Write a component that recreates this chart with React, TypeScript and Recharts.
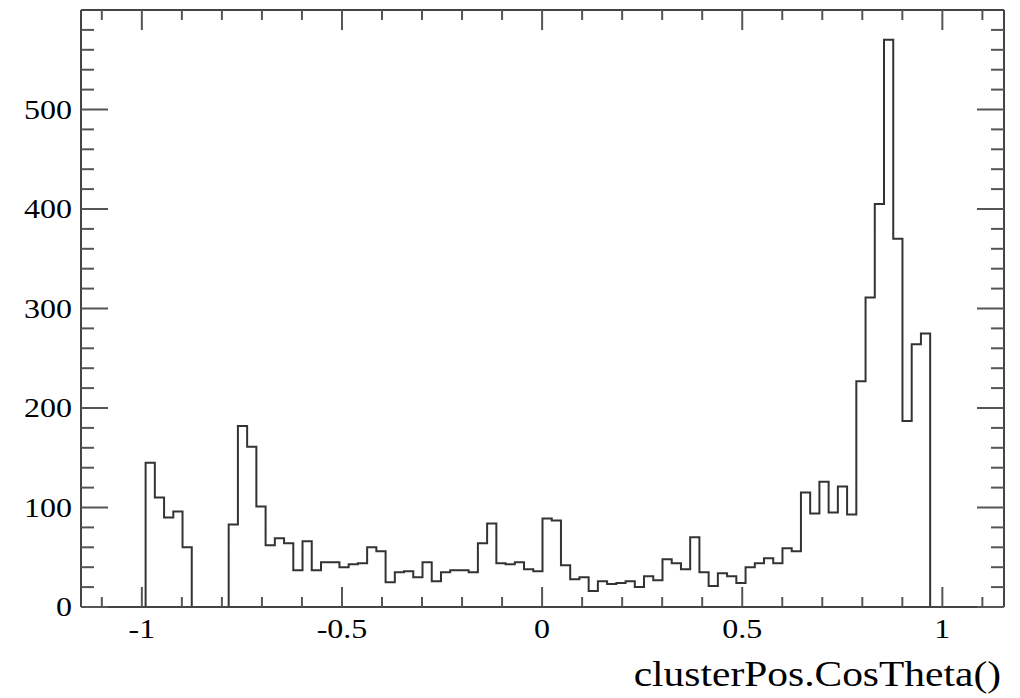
import { LineChart, Line, XAxis, YAxis } from 'recharts';

const X_MIN = -1.152;
const X_MAX = 1.154;

// entries per bin, 100 equal-width bins from X_MIN to X_MAX
const counts = [
  0, 0, 0, 0, 0, 0, 0, 145, 110, 90,
  96, 60, 0, 0, 0, 0, 83, 182, 161, 101,
  62, 69, 64, 37, 66, 37, 45, 45, 40, 43,
  44, 60, 56, 25, 35, 36, 30, 45, 26, 35,
  37, 37, 35, 64, 84, 44, 43, 45, 38, 36,
  89, 87, 42, 28, 30, 16, 26, 23, 24, 26,
  20, 31, 27, 48, 44, 38, 70, 35, 21, 34,
  31, 24, 40, 44, 49, 44, 59, 56, 115, 94,
  126, 95, 121, 93, 227, 311, 405, 570, 370, 187,
  264, 275, 0, 0, 0, 0, 0, 0, 0, 0,
];

const xTicks = [
  -1.1, -1, -0.9, -0.8, -0.7, -0.6, -0.5, -0.4, -0.3, -0.2, -0.1, 0,
  0.1, 0.2, 0.3, 0.4, 0.5, 0.6, 0.7, 0.8, 0.9, 1, 1.1,
];
const xLabeled = [-1, -0.5, 0, 0.5, 1];

const yTicks = [
  0, 20, 40, 60, 80, 100, 120, 140, 160, 180, 200, 220, 240, 260, 280,
  300, 320, 340, 360, 380, 400, 420, 440, 460, 480, 500, 520, 540, 560, 580,
];
const yLabeled = [0, 100, 200, 300, 400, 500];

const xTitle = 'clusterPos.CosTheta()';

const binWidth = (X_MAX - X_MIN) / counts.length;
const histData = counts.map((n, i) => ({ x: X_MIN + i * binWidth, n }));
histData.push({ x: X_MAX, n: 0 });

const FONT = "'Liberation Serif', 'Times New Roman', serif";
const STRETCH = 'scale(1.185 1)';
const TICK_COLOR = '#555';

function BottomTick(props: any) {
  const { x, y, payload } = props;
  const major = xLabeled.includes(payload.value);
  return (
    <g>
      <line x1={x} x2={x} y1={y} y2={y - (major ? 20 : 10)} stroke={TICK_COLOR} strokeWidth={2} />
      {major && (
        <text
          transform={`translate(${x} ${y + 31}) ${STRETCH}`}
          textAnchor="middle"
          fontFamily={FONT}
          fontSize={27}
          fill="#000"
        >
          {String(payload.value)}
        </text>
      )}
    </g>
  );
}

function TopTick(props: any) {
  const { x, y, payload } = props;
  const major = xLabeled.includes(payload.value);
  return <line x1={x} x2={x} y1={y} y2={y + (major ? 20 : 10)} stroke={TICK_COLOR} strokeWidth={2} />;
}

function LeftTick(props: any) {
  const { x, y, payload } = props;
  const major = yLabeled.includes(payload.value);
  return (
    <g>
      <line x1={x} x2={x + (major ? 27 : 13)} y1={y} y2={y} stroke={TICK_COLOR} strokeWidth={2} />
      {major && (
        <text
          transform={`translate(${x - 9} ${y + 9}) ${STRETCH}`}
          textAnchor="end"
          fontFamily={FONT}
          fontSize={27}
          fill="#000"
        >
          {String(payload.value)}
        </text>
      )}
    </g>
  );
}

function RightTick(props: any) {
  const { x, y, payload } = props;
  const major = yLabeled.includes(payload.value);
  return <line x1={x} x2={x - (major ? 27 : 13)} y1={y} y2={y} stroke={TICK_COLOR} strokeWidth={2} />;
}

export default function App() {
  const frame = { stroke: '#444', strokeWidth: 2 };
  return (
    <div style={{ background: '#fff', width: 1012, height: 690 }}>
      <LineChart
        width={1012}
        height={690}
        data={histData}
        margin={{ top: 1, right: 15, bottom: 90, left: 72 }}
      >
        <XAxis
          xAxisId="bottom"
          dataKey="x"
          type="number"
          domain={[X_MIN, X_MAX]}
          ticks={xTicks}
          interval={0}
          height={1}
          tickSize={0}
          tickMargin={0}
          tickLine={false}
          axisLine={frame}
          tick={BottomTick}
          allowDataOverflow
        />
        <XAxis
          xAxisId="top"
          orientation="top"
          dataKey="x"
          type="number"
          domain={[X_MIN, X_MAX]}
          ticks={xTicks}
          interval={0}
          height={1}
          tickSize={0}
          tickMargin={0}
          tickLine={false}
          axisLine={frame}
          tick={TopTick}
          allowDataOverflow
        />
        <YAxis
          yAxisId="left"
          type="number"
          domain={[0, 600]}
          ticks={yTicks}
          interval={0}
          width={1}
          tickSize={0}
          tickMargin={0}
          tickLine={false}
          axisLine={frame}
          tick={LeftTick}
          allowDataOverflow
        />
        <YAxis
          yAxisId="right"
          orientation="right"
          type="number"
          domain={[0, 600]}
          ticks={yTicks}
          interval={0}
          width={1}
          tickSize={0}
          tickMargin={0}
          tickLine={false}
          axisLine={frame}
          tick={RightTick}
          allowDataOverflow
        />
        <Line
          xAxisId="bottom"
          yAxisId="left"
          type="stepAfter"
          dataKey="n"
          stroke="#333"
          strokeWidth={2}
          dot={false}
          activeDot={false}
          isAnimationActive={false}
        />
        <text
          transform={`translate(993 678) ${STRETCH}`}
          textAnchor="end"
          fontFamily={FONT}
          fontSize={35}
          fill="#000"
        >
          {xTitle}
        </text>
      </LineChart>
    </div>
  );
}
